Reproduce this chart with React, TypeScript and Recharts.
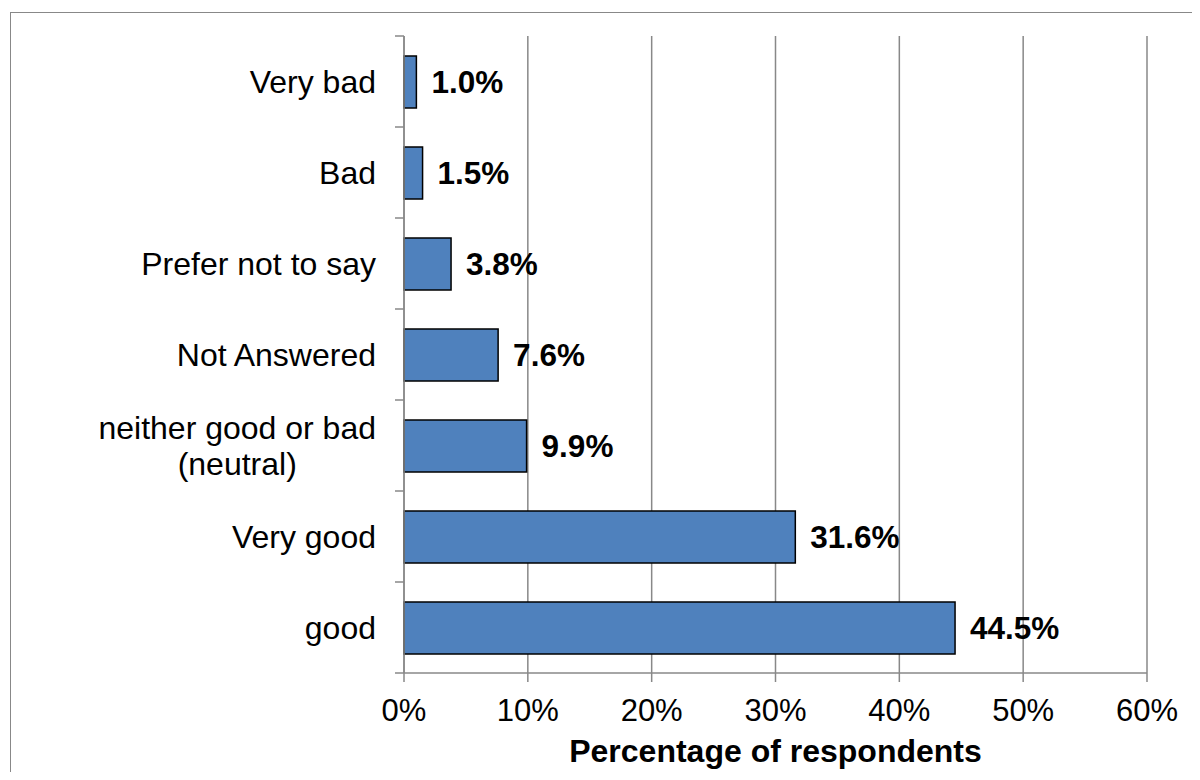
import { BarChart, Bar, XAxis, YAxis, CartesianGrid, LabelList } from 'recharts'

const categories = [
  'Very bad',
  'Bad',
  'Prefer not to say',
  'Not Answered',
  'neither good or bad\n(neutral)',
  'Very good',
  'good',
]
const percentages = [1.0, 1.5, 3.8, 7.6, 9.9, 31.6, 44.5]
const xTicks = [0, 10, 20, 30, 40, 50, 60]

const data = categories.map((name, i) => ({ name, value: percentages[i] }))

const W = 1184
const H = 764
const M_TOP = 28
const X_AXIS_H = 99
const Y_AXIS_W = 396
const PLOT_H = H - M_TOP - X_AXIS_H
const BAND = PLOT_H / categories.length
const TICK_SIZE = 9
const TICK_MARGIN = 19
const FS = 32
const FONT = '"Liberation Sans", Arial, sans-serif'
const GRID = '#888888'

const measure = (s: string) => {
  const ctx = document.createElement('canvas').getContext('2d')
  if (!ctx) return s.length * FS * 0.5
  ctx.font = `${FS}px "Liberation Sans"`
  return ctx.measureText(s).width
}

const CategoryTick = ({ x, y, payload, index }: any) => {
  const lines = String(payload.value).split('\n')
  const axisX = x + TICK_MARGIN + TICK_SIZE
  const lineH = 36
  let textX = x
  let anchor: 'end' | 'middle' = 'end'
  if (lines.length > 1) {
    const w = Math.max(...lines.map(measure))
    textX = x - w / 2
    anchor = 'middle'
  }
  const y0 = y - ((lines.length - 1) * lineH) / 2
  return (
    <g>
      <line x1={axisX - TICK_SIZE} x2={axisX} y1={y - BAND / 2} y2={y - BAND / 2} stroke={GRID} strokeWidth={1.5} />
      {index === categories.length - 1 && (
        <line x1={axisX - TICK_SIZE} x2={axisX} y1={y + BAND / 2} y2={y + BAND / 2} stroke={GRID} strokeWidth={1.5} />
      )}
      <text textAnchor={anchor} fill="#000" fontSize={FS} fontFamily={FONT}>
        {lines.map((l, i) => (
          <tspan key={i} x={textX} y={y0 + i * lineH} dy="0.355em">{l}</tspan>
        ))}
      </text>
    </g>
  )
}

export default function App() {
  return (
    <div style={{ position: 'relative', width: W, height: H, fontFamily: FONT }}>
      <div style={{
        position: 'absolute', left: 2, top: 4, width: W - 2, height: H - 4,
        borderLeft: '1px solid #888', borderTop: '1px solid #888', boxSizing: 'border-box',
      }} />
      <BarChart
        width={W}
        height={H}
        data={data}
        layout="vertical"
        margin={{ top: M_TOP, right: 45, left: 0, bottom: 0 }}
        style={{ position: 'relative' }}
      >
        <CartesianGrid horizontal={false} stroke={GRID} strokeWidth={1.5} />
        <XAxis
          type="number"
          domain={[0, 60]}
          ticks={xTicks}
          height={X_AXIS_H}
          tickFormatter={v => `${v}%`}
          tickSize={TICK_SIZE}
          tickMargin={17}
          axisLine={{ stroke: GRID, strokeWidth: 1.5 }}
          tickLine={{ stroke: GRID, strokeWidth: 1.5 }}
          tick={{ fill: '#000', fontSize: 31, fontFamily: FONT }}
          label={{
            value: 'Percentage of respondents', position: 'insideBottom', offset: 10,
            style: { fill: '#000', fontSize: FS, fontWeight: 'bold', fontFamily: FONT },
          }}
        />
        <YAxis
          type="category"
          dataKey="name"
          width={Y_AXIS_W}
          interval={0}
          tickSize={TICK_SIZE}
          tickMargin={TICK_MARGIN}
          tickLine={false}
          axisLine={{ stroke: GRID, strokeWidth: 1.5 }}
          tick={<CategoryTick />}
        />
        <Bar dataKey="value" fill="#4F81BD" stroke="#000" strokeWidth={1.5} barSize={52} isAnimationActive={false}>
          <LabelList
            dataKey="value"
            position="right"
            offset={15}
            formatter={(v: any) => `${Number(v).toFixed(1)}%`}
            style={{ fill: '#000', fontSize: 31.5, fontWeight: 'bold', fontFamily: FONT }}
          />
        </Bar>
      </BarChart>
    </div>
  )
}
